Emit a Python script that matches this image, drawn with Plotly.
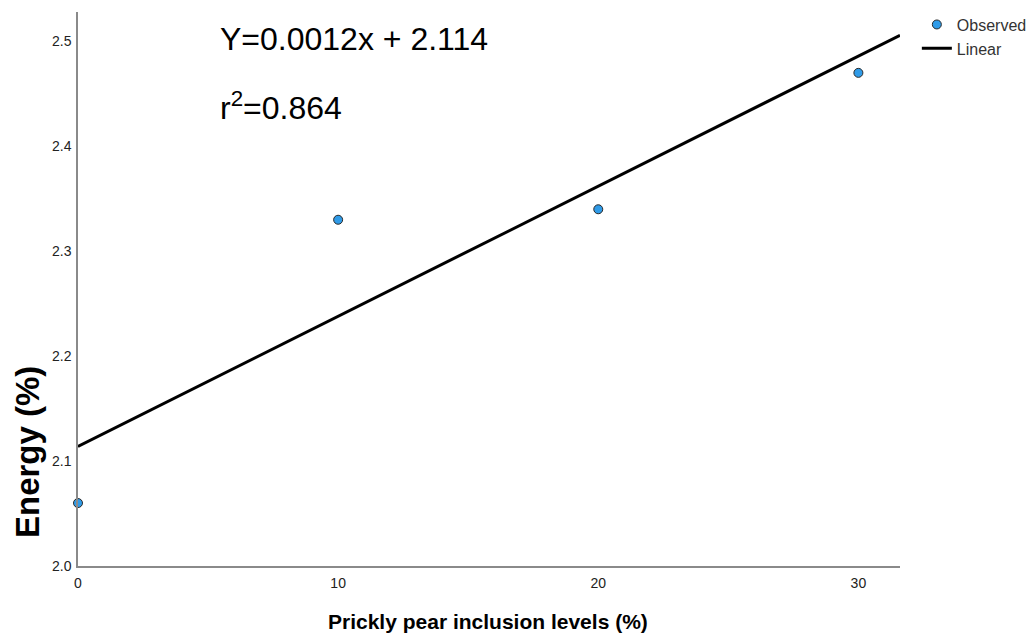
import numpy as np
import plotly.graph_objects as go

# Observed energy values at each prickly pear inclusion level
inclusion_levels = [0, 10, 20, 30]
energy = [2.06, 2.33, 2.34, 2.47]

x_ticks = [0, 10, 20, 30]
y_ticks = [2.0, 2.1, 2.2, 2.3, 2.4, 2.5]
x_range = [0, 31.6]
y_range = [2.0, 2.528]

equation_text = "Y=0.0012x + 2.114"
r2_text = "r<sup>2</sup>=0.864"

# Least-squares linear fit through the observed points
slope, intercept = np.polyfit(inclusion_levels, energy, 1)
fit_x = np.array(x_range)
fit_y = intercept + slope * fit_x

font_family = "Liberation Sans, Arial, sans-serif"

fig = go.Figure()
fig.add_trace(go.Scatter(
    x=inclusion_levels, y=energy, mode="markers", name="Observed",
    marker=dict(size=9, color="#2f9be8", line=dict(color="#2a2a2a", width=1)),
    cliponaxis=False,
))
fig.add_trace(go.Scatter(
    x=fit_x, y=fit_y, mode="lines", name="Linear",
    line=dict(color="black", width=3),
    cliponaxis=False,
))

fig.update_layout(
    width=1034, height=634,
    margin=dict(l=78, r=134, t=12, b=68, autoexpand=False),
    paper_bgcolor="white", plot_bgcolor="white",
    font=dict(family=font_family, color="#222"),
    showlegend=True,
    legend=dict(
        x=1.0205, y=1.008, xanchor="left", yanchor="top",
        font=dict(size=16, color="#333"),
        bgcolor="rgba(0,0,0,0)", tracegroupgap=0,
    ),
    xaxis=dict(
        range=x_range, tickvals=x_ticks, showgrid=False, zeroline=False,
        showline=True, linecolor="#8a8a8a", linewidth=1.5, ticks="",
        tickfont=dict(size=14, color="#222"), ticklabelstandoff=3,
    ),
    yaxis=dict(
        range=y_range, tickvals=y_ticks, tickformat=".1f", showgrid=False,
        zeroline=False, showline=True, linecolor="#8a8a8a", linewidth=1.5,
        ticks="", tickfont=dict(size=14, color="#222"), ticklabelstandoff=2,
    ),
    annotations=[
        dict(text=equation_text, xref="paper", yref="paper",
             x=(218 - 78) / 822, y=(566 - 39) / 554, xanchor="left",
             yanchor="middle", showarrow=False,
             font=dict(size=32, color="black")),
        dict(text=r2_text, xref="paper", yref="paper",
             x=(218 - 78) / 822, y=(566 - 106) / 554, xanchor="left",
             yanchor="middle", showarrow=False,
             font=dict(size=32, color="black")),
        dict(text="<b>Energy (%)</b>", xref="paper", yref="paper",
             x=(27 - 78) / 822, y=(566 - 452) / 554, xanchor="center",
             yanchor="middle", textangle=-90, showarrow=False,
             font=dict(size=33, color="black")),
        dict(text="<b>Prickly pear inclusion levels (%)</b>", xref="paper",
             yref="paper", x=(488 - 78) / 822, y=(566 - 621) / 554,
             xanchor="center", yanchor="middle", showarrow=False,
             font=dict(size=21, color="black")),
    ],
)

fig.write_html("out.html")
